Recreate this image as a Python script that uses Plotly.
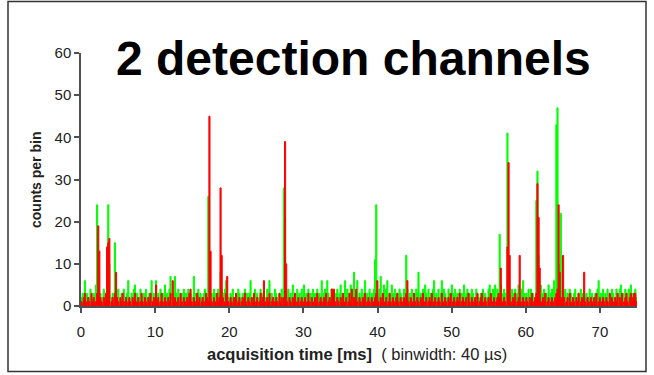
import plotly.graph_objects as go

# ---- data (counts per bin; display bins of 0.15 ms) ----
bin_ms = 0.15
x_ticks = [0, 10, 20, 30, 40, 50, 60, 70]
y_ticks = [0, 10, 20, 30, 40, 50, 60]

green_counts = [
    2,3,1,6,2,3,1,2,4,2, 1,3,2,5,24,8,2,3,1,2, 4,2,3,14,24,10,0,2,3,1, 15,3,2,4,1,2,3,2,4,1, 2,3,6,2,1,3,2,4,5,2,
    3,1,2,4,2,1,3,2,4,1, 2,3,2,6,1,3,2,6,2,3, 1,4,2,3,1,5,2,3,2,4, 7,2,3,1,7,3,2,4,1,2, 3,2,4,1,3,2,4,2,3,1,
    2,7,2,3,1,4,2,3,2,1, 3,4,2,3,26,10,2,3,1,4, 2,3,2,4,3,8,4,2,3,4, 6,3,2,1,3,2,4,1,2,3, 2,4,3,1,2,3,2,4,1,3,
    2,3,6,2,1,3,4,2,3,1, 2,4,3,2,3,1,2,4,2,6, 2,3,1,2,4,3,2,1,3,2, 4,0,28,21,3,2,4,1,3,2, 5,2,3,1,4,2,3,2,4,1,
    5,2,3,1,4,2,3,2,4,1, 3,2,4,2,3,1,6,2,3,4, 2,6,3,1,2,4,3,2,1,3, 4,2,3,5,2,3,1,6,2,4, 3,2,5,3,4,8,2,3,6,2,
    3,1,4,2,3,6,2,3,1,4, 2,3,2,4,11,24,3,2,4,7, 2,3,5,2,4,6,1,3,2,5, 3,2,4,1,3,2,4,3,1,2, 4,3,12,4,2,3,1,4,2,3,
    2,4,3,8,2,3,1,4,2,5, 3,2,4,1,3,2,4,6,2,3, 1,4,2,3,6,2,4,3,1,2, 4,3,2,5,3,1,4,2,3,2, 4,1,3,2,5,2,3,4,1,3,
    2,4,3,1,2,4,3,2,1,3, 2,4,2,3,1,2,4,5,3,2, 4,3,5,2,4,3,17,5,3,2, 4,3,1,41,12,3,2,4,3,1, 4,2,3,5,3,2,4,6,3,2,
    3,2,4,1,4,2,3,2,1,25, 32,12,3,5,2,3,4,1,3,2, 5,2,3,4,2,6,1,43,47,10, 3,22,4,3,2,4,1,3,2,4, 3,1,2,3,4,2,1,3,2,4,
    2,3,1,2,3,1,2,4,2,3, 1,2,3,2,4,6,2,3,1,4, 2,3,2,4,1,3,2,4,3,2, 1,4,3,2,4,5,2,3,1,4, 3,2,4,3,5,2,3,1,4,2,
]

red_counts = [
    1,0,2,3,1,0,2,1,0,3, 1,2,0,1,3,19,13,2,1,0, 2,1,3,14,15,16,0,1,2,0, 3,8,2,1,0,2,1,3,0,1, 2,0,1,2,1,0,2,1,3,0,
    1,2,0,1,3,1,0,2,1,0, 2,1,3,0,1,2,0,5,1,2, 0,1,3,1,0,2,1,0,2,1, 3,0,6,1,2,0,1,2,0,3, 1,0,2,1,0,2,1,3,4,1,
    0,2,1,0,3,1,2,0,1,2, 0,1,3,2,1,45,13,1,0,2, 1,0,3,1,2,28,12,2,0,1, 3,7,1,0,2,1,0,2,1,3, 0,1,2,0,1,2,0,3,1,0,
    2,1,0,2,1,3,0,1,2,0, 1,3,1,2,6,1,0,2,1,3, 0,1,2,0,1,2,1,0,3,1, 2,0,2,39,10,1,0,2,1,0, 2,1,3,0,1,2,0,1,2,0,
    1,2,0,1,3,1,0,2,1,0, 2,1,3,0,1,2,1,0,2,1, 3,0,1,2,1,4,4,4,1,0, 2,1,0,2,1,3,0,1,2,0, 1,3,1,4,0,2,1,4,1,0,
    2,1,0,2,1,3,0,1,2,1, 0,2,1,0,2,3,6,1,0,2, 1,3,0,1,2,0,1,3,1,0, 2,1,0,2,3,1,0,2,1,0, 2,1,3,6,1,0,2,1,0,3,
    1,0,2,1,0,2,1,3,0,1, 2,0,1,2,1,3,0,1,2,0, 1,2,1,0,3,1,0,2,1,0, 2,1,3,0,1,2,0,1,2,1, 3,0,1,2,0,1,2,0,3,1,
    0,2,1,0,2,1,3,0,1,2, 3,1,0,2,1,0,2,1,3,0, 1,2,0,1,2,3,2,9,1,0, 2,1,0,14,34,12,1,0,2,1, 3,0,1,2,12,1,0,2,1,0,
    2,1,0,2,1,3,0,1,2,3, 29,21,9,1,0,2,1,3,0,1, 2,0,1,2,1,0,2,3,4,24, 8,2,1,12,2,0,1,2,0,3, 1,0,2,1,0,2,1,3,0,1,
    2,0,8,1,0,2,1,0,2,1, 0,2,1,3,0,1,2,0,1,2, 1,0,2,1,0,3,1,2,0,1, 2,1,3,0,2,1,3,0,1,2, 3,1,0,2,3,1,2,3,3,1,
]

times = [i * bin_ms for i in range(len(green_counts))] + [75.0]
green_y = green_counts + [green_counts[-1]]
red_y = red_counts + [red_counts[-1]]

# ---- layout geometry (pixels) ----
W, H = 654, 375
L, R, T, B = 81, 17, 53, 69
pw, ph = W - L - R, H - T - B


def px(xp):
    return (xp - L) / pw


def py(yp):
    return (H - B - yp) / ph


FONT = "Arial, Liberation Sans, sans-serif"
AXC = "#505050"

fig = go.Figure()
fig.add_trace(go.Scatter(x=times, y=green_y, mode="lines", line=dict(color="#00ff00", width=1, shape="hv"),
                         fill="tozeroy", fillcolor="#00ff00", showlegend=False, hoverinfo="skip"))
fig.add_trace(go.Scatter(x=times, y=red_y, mode="lines", line=dict(color="#ff0000", width=1, shape="hv"),
                         fill="tozeroy", fillcolor="#ff0000", showlegend=False, hoverinfo="skip"))

fig.update_layout(
    width=W, height=H,
    margin=dict(l=L, r=R, t=T, b=B, pad=0),
    paper_bgcolor="white", plot_bgcolor="white",
    font=dict(family=FONT, color="#222222", size=15),
    xaxis=dict(range=[0, 75], tickvals=x_ticks, showgrid=False, zeroline=False,
               showline=True, linecolor=AXC, linewidth=1.5,
               ticks="outside", ticklen=5, tickwidth=1.5, tickcolor=AXC,
               tickfont=dict(size=15, family=FONT, color="#222222"), ticklabelstandoff=6),
    yaxis=dict(range=[0, 60], tickvals=y_ticks, showgrid=False, zeroline=False,
               showline=True, linecolor=AXC, linewidth=1.5,
               ticks="outside", ticklen=5, tickwidth=1.5, tickcolor=AXC,
               tickfont=dict(size=15, family=FONT, color="#222222")),
    shapes=[dict(type="rect", xref="paper", yref="paper",
                 x0=px(8), x1=px(646), y0=py(371.5), y1=py(1.5),
                 line=dict(color="#333333", width=1.5), fillcolor="rgba(0,0,0,0)", layer="below")],
    annotations=[
        dict(text="<b>2 detection channels</b>", xref="paper", yref="paper",
             x=px(353), y=py(59), xanchor="center", yanchor="middle", showarrow=False,
             font=dict(family=FONT, size=48, color="black")),
        dict(text="<b>acquisition time [ms]</b>  ( binwidth: 40 µs)", xref="paper", yref="paper",
             x=px(357), y=py(354), xanchor="center", yanchor="middle", showarrow=False,
             font=dict(family=FONT, size=16.5, color="#222222")),
        dict(text="<b>counts per bin</b>", xref="paper", yref="paper", textangle=-90,
             x=px(36), y=py(180), xanchor="center", yanchor="middle", showarrow=False,
             font=dict(family=FONT, size=14, color="#222222")),
    ],
)

fig.write_html("out.html")
